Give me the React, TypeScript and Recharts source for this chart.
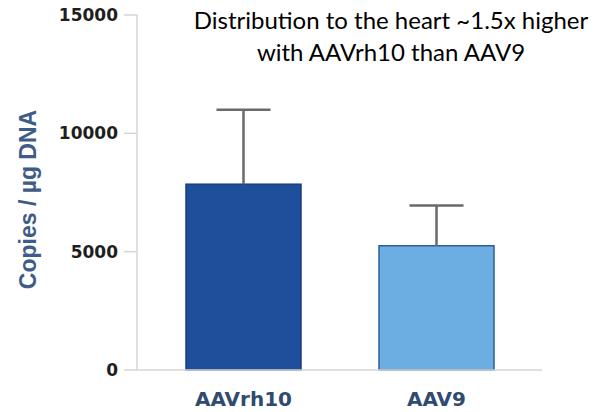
import { BarChart, Bar, XAxis, YAxis } from "recharts";

const groups = ["AAVrh10", "AAV9"];
const means = [7850, 5250];
const upperErrors = [3150, 1700];
const barFills = ["#1f4e9b", "#6daee2"];
const barStrokes = ["#183f7f", "#2d5d9e"];
const yTicks = [0, 5000, 10000, 15000];

const chartData = groups.map((g, i) => ({
  group: g,
  mean: means[i],
  err: upperErrors[i],
  fill: barFills[i],
  stroke: barStrokes[i],
}));

const axisGray = "#d6d6d6";

// whisker drawn from the stacked (invisible) error segment
const Whisker = (props: any) => {
  const { x, y, width, height } = props;
  const cx = x + width / 2;
  return (
    <g>
      <line x1={cx} x2={cx} y1={y + height} y2={y} stroke="#6a6a6a" strokeWidth={2.5} />
      <line x1={cx - 27} x2={cx + 27} y1={y} y2={y} stroke="#6a6a6a" strokeWidth={2.5} />
    </g>
  );
};

const MeanBar = (props: any) => {
  const { x, y, width, height, payload } = props;
  return (
    <rect
      x={x}
      y={y}
      width={width}
      height={height}
      fill={payload.fill}
      stroke={payload.stroke}
      strokeWidth={1.5}
    />
  );
};

const YLabel = (props: any) => {
  const { viewBox } = props;
  const x = viewBox.x + 28;
  const y = viewBox.y + viewBox.height / 2 + 7;
  return (
    <text
      x={x}
      y={y}
      transform={`rotate(-90, ${x}, ${y})`}
      textAnchor="middle"
      dominantBaseline="central"
      fill="#3e5c87"
      fontFamily="Liberation Sans, Arial, sans-serif"
      fontWeight="bold"
      fontSize={23}
    >
      Copies / µg DNA
    </text>
  );
};

export default function App() {
  return (
    <div style={{ position: "absolute", left: 0, top: 0, width: 598, height: 412, background: "#fff" }}>
      <BarChart
        width={598}
        height={412}
        data={chartData}
        margin={{ top: 15, right: 56, bottom: 0, left: 0 }}
      >
        <XAxis
          dataKey="group"
          height={42}
          padding={{ left: 10, right: 9 }}
          axisLine={{ stroke: axisGray, strokeWidth: 1.5 }}
          tickLine={false}
          tickMargin={16}
          tick={{
            fill: "#2f4b70",
            fontFamily: "DejaVu Sans, sans-serif",
            fontWeight: "bold",
            fontSize: 20,
          }}
        />
        <YAxis
          width={137}
          domain={[0, 15000]}
          ticks={yTicks}
          interval={0}
          axisLine={{ stroke: axisGray, strokeWidth: 1.5 }}
          tickLine={{ stroke: axisGray, strokeWidth: 1.5 }}
          tickSize={13}
          tickMargin={6}
          tick={{
            fill: "#1e1e1e",
            fontFamily: "DejaVu Sans, sans-serif",
            fontWeight: "bold",
            fontSize: 17,
          }}
          label={<YLabel />}
        />
        <Bar dataKey="mean" stackId="a" barSize={115} shape={<MeanBar />} isAnimationActive={false} />
        <Bar dataKey="err" stackId="a" barSize={115} shape={<Whisker />} isAnimationActive={false} />
      </BarChart>
      <div
        style={{
          position: "absolute",
          left: 171,
          top: 4,
          width: 440,
          textAlign: "center",
          fontFamily: "Lato, sans-serif",
          fontSize: 24,
          lineHeight: "32px",
          color: "#000",
        }}
      >
        Distribution to the heart ~1.5x higher
        <br />
        with AAVrh10 than AAV9
      </div>
    </div>
  );
}
